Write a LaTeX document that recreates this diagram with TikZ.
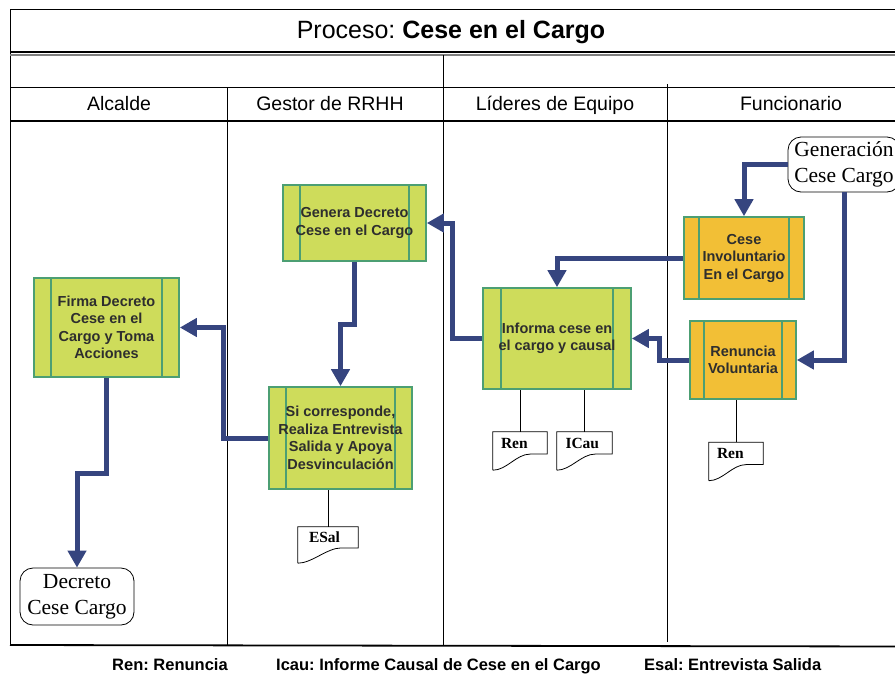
\documentclass[tikz,border=0pt]{standalone}
\usepackage{fontspec}
\setmainfont{Liberation Sans}
\newfontfamily\rmface{Liberation Serif}
\usepackage{xcolor}
\usetikzlibrary{arrows.meta, calc}
\frenchspacing

\definecolor{flow}{HTML}{36457F}
\definecolor{procgreen}{HTML}{CEDC5B}
\definecolor{procorange}{HTML}{F2BF36}
\definecolor{procline}{HTML}{4C9F73}
\definecolor{proctext}{HTML}{2E2E2E}

\begin{document}
\begin{tikzpicture}[ x = 1pt, y = -1pt
                   , >={Triangle[width=18pt, length=17pt]}
                   , proc/.style 2 args = { rectangle
                                          , draw = procline
                                          , line width = 1.6pt
                                          , fill = #1
                                          , text = proctext
                                          , align = center
                                          , inner sep = 0pt
                                          , font = \fontsize{14.5}{17.5}\selectfont\bfseries
                                          , path picture = {
                                              \draw[procline, line width=1.4pt]
                                                ([xshift=#2]path picture bounding box.north west)
                                                -- ([xshift=#2]path picture bounding box.south west)
                                                ([xshift=-#2]path picture bounding box.north east)
                                                -- ([xshift=-#2]path picture bounding box.south east);} }
                   , term/.style = { rectangle
                                   , rounded corners = 13pt
                                   , draw = black
                                   , line width = 0.8pt
                                   , fill = white
                                   , align = center
                                   , inner sep = 0pt
                                   , font = \rmface\fontsize{21.5}{26}\selectfont }
                   , doc/.style = { rectangle
                                  , inner sep = 0pt
                                  , minimum width = 55pt
                                  , minimum height = 38pt
                                  , text width = 38pt
                                  , align = left
                                  , text height = 9pt
                                  , text depth = 15pt
                                  , font = \rmface\bfseries\fontsize{15.5}{15.5}\selectfont }
                   , lane/.style = { font = \fontsize{19.5}{22}\selectfont }
                   , legend/.style = { anchor = base west
                                     , inner sep = 0pt
                                     , font = \fontsize{16.5}{18}\selectfont\bfseries }
                   , flowline/.style = { draw = flow, line width = 5pt, -> }
                   , docline/.style = { draw = black, line width = 0.8pt }
                   ]

  \useasboundingbox (0,0) rectangle (895,673);

  % frame and swimlanes
  \draw[line width=1pt] (10,645) -- (10,9) -- (905,9);
  \draw[line width=1.2pt] (10,52) -- (905,52);
  \draw[gray, line width=1.2pt] (10,55) -- (905,55);
  \draw[line width=1.8pt] (10,87.5) -- (905,87.5);
  \draw[line width=1.8pt] (10,121) -- (905,121);
  \draw[line width=0.8pt] (227,88) -- (227,645);
  \draw[line width=0.8pt] (443,55) -- (443,645);
  \draw[line width=0.8pt] (667,84) -- (667,642);
  \draw[line width=1.8pt] (10,645) -- (905,646.5);

  \node (title) at (451,32) {\fontsize{25}{30}\selectfont Proceso: \textbf{Cese en el Cargo}};

  \node (alcalde) [lane] at (119,104) {Alcalde};
  \node (gestor) [lane] at (330,104) {Gestor de RRHH};
  \node (lideres) [lane] at (555,105) {Líderes de Equipo};
  \node (funcionario) [lane] at (791,104) {Funcionario};

  % activities
  \node (firma) [proc={procgreen}{17pt}, minimum width=145pt, minimum height=99pt]
    at (106.5,327.5) {Firma Decreto\\ Cese en el\\ Cargo y Toma\\ Acciones};
  \node (genera) [proc={procgreen}{17pt}, minimum width=143pt, minimum height=76pt]
    at (354.5,223) {Genera Decreto\\ Cese en el Cargo};
  \node (si) [proc={procgreen}{17pt}, minimum width=143pt, minimum height=102pt]
    at (340.5,438) {Si corresponde,\\ Realiza Entrevista\\ Salida y Apoya\\ Desvinculación};
  \node (informa) [proc={procgreen}{18pt}, minimum width=148pt, minimum height=101pt]
    at (557,338.5) {Informa cese en\\ el cargo y causal};
  \node (ceseinv) [proc={procorange}{15pt}, minimum width=120pt, minimum height=82pt]
    at (744,258) {Cese\\ Involuntario\\ En el Cargo};
  \node (renuncia) [proc={procorange}{14pt}, minimum width=106pt, minimum height=78pt]
    at (743,360) {Renuncia\\ Voluntaria};

  \node (gen) [term, minimum width=112pt, minimum height=55pt] at (844,164.5) {Generación\\ Cese Cargo};
  \node (decreto) [term, minimum width=114pt, minimum height=57pt] at (77,596.5) {Decreto\\ Cese Cargo};

  % documents
  \node (ren1) [doc, minimum width=54pt] at (520,451) {Ren};
  \node (icau) [doc] at (584.5,451) {ICau};
  \node (ren2) [doc, minimum width=54pt] at (736,461.5) {Ren};
  \node (esal) [doc, minimum width=60pt, minimum height=36pt] at (328,545) {ESal};

  \foreach \d in {ren1, icau, ren2, esal}
    \draw[docline] (\d.south west) -- (\d.north west) -- (\d.north east)
      -- ($(\d.north east)!.58!(\d.south east)$) -- ++(-17,0)
      .. controls +(-14,0) and +(14,0) .. (\d.south west);

  \draw[docline] (ren1.north) -- (ren1.north |- informa.south);
  \draw[docline] (icau.north) -- (icau.north |- informa.south);
  \draw[docline] (ren2.north) -- (ren2.north |- renuncia.south);
  \draw[docline] (esal.north) -- (esal.north |- si.south);

  % flow
  \draw[flowline] (gen.west) -| (ceseinv.north);
  \draw[flowline] (gen.south) |- (renuncia.east);
  \draw[flowline] (ceseinv.west) -| (informa.north);
  \draw[flowline] (renuncia.west) -- ++(-30,0) |- (informa.east);
  \draw[flowline] (informa.west) -- ++(-30,0) |- (genera.east);
  \draw[flowline] (genera.south) -- ++(0,63) -| (si.north);
  \draw[flowline] (si.west) -- ++(-45,0) |- (firma.east);
  \draw[flowline] (firma.south) -- ++(0,96) -| (decreto.north);

  % legend
  \node (legren) [legend] at (112,670) {Ren: Renuncia};
  \node (legicau) [legend] at (276,670) {Icau: Informe Causal de Cese en el Cargo};
  \node (legesal) [legend] at (644,670) {Esal: Entrevista Salida};

\end{tikzpicture}
\end{document}
